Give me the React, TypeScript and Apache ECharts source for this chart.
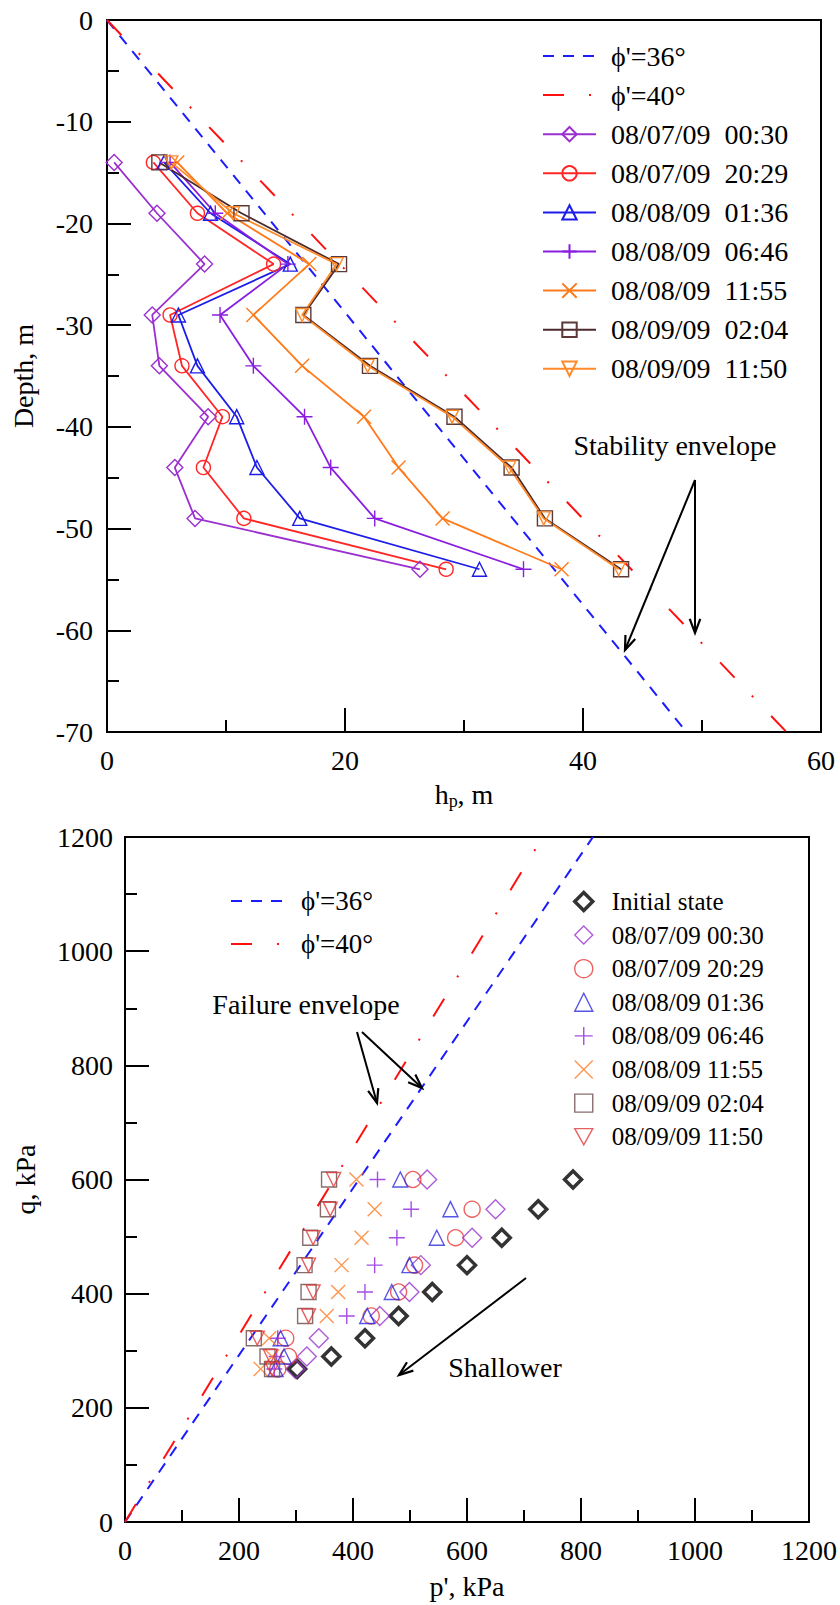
import React, { useEffect, useRef } from 'react';
import * as echarts from 'echarts';

const FONT = 'Liberation Serif';

// ---------- Top chart data: depth vs h_p ----------
const depths = [-14, -19, -24, -29, -34, -39, -44, -49, -54];
const hp0030 = [0.6, 4.2, 8.2, 3.8, 4.4, 8.5, 5.7, 7.4, 26.3];
const hp2029 = [3.9, 7.6, 14.0, 5.3, 6.3, 9.7, 8.1, 11.5, 28.5];
const hp0136 = [4.8, 8.7, 15.4, 6.0, 7.6, 10.9, 12.6, 16.2, 31.3];
const hp0646 = [5.3, 9.1, 15.2, 9.5, 12.3, 16.6, 18.8, 22.5, 35.0];
const hp1155 = [5.9, 10.1, 17.0, 12.3, 16.4, 21.6, 24.5, 28.2, 38.2];
const hp0204 = [4.4, 11.3, 19.5, 16.5, 22.1, 29.2, 34.0, 36.8, 43.2];
const hp1150 = [5.4, 10.6, 19.3, 16.4, 21.9, 29.0, 33.8, 36.7, 43.0];
const stab36 = [[0, 0], [48.7, -70]];
const stab40 = [[0, 0], [57.1, -70]];

// ---------- Bottom chart data: q vs p' ----------
const qLevels = [268, 290, 322, 361, 403, 450, 498, 548, 600];
const pInit = [302, 362, 421, 480, 539, 600, 661, 725, 786];
const p0030 = [299, 319, 340, 447, 499, 519, 609, 650, 530];
const p2029 = [268, 287, 282, 432, 480, 508, 580, 609, 505];
const p0136 = [264, 279, 273, 425, 468, 499, 547, 571, 483];
const p0646 = [262, 266, 268, 389, 421, 438, 477, 502, 443];
const p1155 = [238, 258, 253, 354, 374, 380, 415, 438, 406];
const p0204 = [258, 250, 226, 316, 322, 315, 325, 356, 358];
const p1150 = [258, 255, 232, 322, 330, 322, 330, 360, 366];
const fail36 = [[0, 0], [821, 1200]];
const fail40 = [[0, 0], [733, 1200]];

const topNames = ['08/07/09  00:30', '08/07/09  20:29', '08/08/09  01:36', '08/08/09  06:46', '08/08/09  11:55', '08/09/09  02:04', '08/09/09  11:50'];
const botNames = ['Initial state', '08/07/09 00:30', '08/07/09 20:29', '08/08/09 01:36', '08/08/09 06:46', '08/08/09 11:55', '08/09/09 02:04', '08/09/09 11:50'];
const env36 = "ϕ'=36°";
const env40 = "ϕ'=40°";

const SYM_PLUS = 'path://M0,5L10,5M5,0L5,10';
const SYM_X = 'path://M0,0L10,10M10,0L0,10';
const SYM_DOWN = 'path://M0,0L10,0L5,9Z';

const RED_DASH = [21, 25, 2, 26];
const BLUE_DASH = [11, 9];

function arrow(x1: number, y1: number, x2: number, y2: number) {
  const head = 15;
  const ang = 0.36;
  const a = Math.atan2(y2 - y1, x2 - x1);
  const p1 = [x2 - head * Math.cos(a - ang), y2 - head * Math.sin(a - ang)];
  const p2 = [x2 - head * Math.cos(a + ang), y2 - head * Math.sin(a + ang)];
  return [
    { type: 'line', shape: { x1, y1, x2, y2 }, style: { stroke: '#000', lineWidth: 2 }, z: 100 },
    { type: 'polyline', shape: { points: [p1, [x2, y2], p2] }, style: { stroke: '#000', lineWidth: 2.2, fill: 'none' }, z: 100 },
  ];
}

function axisCommon(min: number, max: number, interval: number) {
  return {
    type: 'value',
    min, max, interval,
    axisLine: { show: true, onZero: false, lineStyle: { color: '#000', width: 2 } },
    axisTick: { show: true, inside: true, length: 24, lineStyle: { color: '#000', width: 2 } },
    minorTick: { show: true, splitNumber: 2, length: 12, lineStyle: { color: '#000', width: 2 } },
    splitLine: { show: false },
    minorSplitLine: { show: false },
    axisLabel: { fontSize: 28, fontFamily: FONT, color: '#000', margin: 14, formatter: (v: number) => String(v) },
    nameLocation: 'middle',
    nameTextStyle: { fontSize: 28, fontFamily: FONT, color: '#000' },
  };
}

function topLine(name: string, hp: number[], symbol: string, size: number, color: string, lineColor?: string) {
  return {
    name, type: 'line',
    data: depths.map((d, i) => [hp[i], d]),
    symbol, symbolSize: size,
    lineStyle: { color: lineColor || color, width: 1.8 },
    itemStyle: { color: 'transparent', borderColor: color, borderWidth: 1.4 },
    z: 3,
  };
}

const hiddenIcon = { color: 'transparent', borderColor: 'transparent', borderWidth: 0, opacity: 0 };

function buildTop() {
  const cols = ['#9b30d0', '#ff2626', '#1c1ce8', '#8a1ee0', '#ff7a1a', '#5c3838', '#ff8a2a'];
  return {
    animation: false,
    backgroundColor: '#fff',
    textStyle: { fontFamily: FONT },
    grid: { left: 107, top: 20, width: 714, height: 713, show: true, borderColor: '#000', borderWidth: 2, backgroundColor: 'transparent' },
    xAxis: {
      ...axisCommon(0, 60, 20),
      name: '{a|h}{b|p}{a|, m}',
      nameGap: 46,
      nameTextStyle: {
        rich: {
          a: { fontSize: 28, fontFamily: FONT, color: '#000' },
          b: { fontSize: 18, fontFamily: FONT, color: '#000', verticalAlign: 'bottom', padding: [14, 0, 0, 0] },
        },
      },
    },
    yAxis: { ...axisCommon(-70, 0, 10), name: 'Depth, m', nameGap: 70 },
    legend: {
      orient: 'vertical', left: 537, top: 37, itemWidth: 53, itemHeight: 18, itemGap: 11.1,
      selectedMode: false,
      textStyle: { fontSize: 28, fontFamily: FONT, color: '#000', lineHeight: 28, padding: [0, 0, 0, 10] },
      data: [
        { name: env36, itemStyle: hiddenIcon },
        { name: env40, itemStyle: hiddenIcon },
        ...topNames,
      ],
    },
    series: [
      { name: env36, type: 'line', data: stab36, symbol: 'none', lineStyle: { color: '#1c1cff', width: 2, type: BLUE_DASH }, z: 2 },
      { name: env40, type: 'line', data: stab40, symbol: 'none', lineStyle: { color: '#ff1010', width: 2, type: RED_DASH }, z: 2 },
      topLine(topNames[0], hp0030, 'diamond', 16, cols[0]),
      topLine(topNames[1], hp2029, 'circle', 14, cols[1]),
      topLine(topNames[2], hp0136, 'triangle', 14, cols[2]),
      topLine(topNames[3], hp0646, SYM_PLUS, 16, cols[3]),
      topLine(topNames[4], hp1155, SYM_X, 14, cols[4]),
      topLine(topNames[5], hp0204, 'rect', 15, '#5c3838', '#4a2a2a'),
      topLine(topNames[6], hp1150, SYM_DOWN, 13, cols[6]),
    ],
    graphic: [
      { type: 'text', x: 675, y: 445, style: { text: 'Stability envelope', fontSize: 28, fontFamily: FONT, fill: '#000', align: 'center', verticalAlign: 'middle' }, z: 100 },
      ...arrow(695, 480, 625, 650),
      ...arrow(695, 480, 695, 633),
    ],
  };
}

function botScatter(name: string, p: number[], symbol: string, size: number, color: string, bw = 1.4) {
  return {
    name, type: 'scatter',
    data: qLevels.map((q, i) => [p[i], q]),
    symbol, symbolSize: size,
    itemStyle: { color: 'transparent', borderColor: color, borderWidth: bw },
    z: 3,
  };
}

function buildBottom() {
  return {
    animation: false,
    backgroundColor: '#fff',
    textStyle: { fontFamily: FONT },
    grid: { left: 125, top: 22, width: 690, height: 685, show: true, borderColor: '#000', borderWidth: 2, backgroundColor: 'transparent' },
    xAxis: { ...axisCommon(0, 1200, 200), name: "p', kPa", nameGap: 50 },
    yAxis: {
      ...axisCommon(0, 1200, 200), name: 'q, kPa', nameGap: 86,
      axisLabel: { fontSize: 28, fontFamily: FONT, color: '#000', margin: 12, formatter: (v: number) => String(v) },
    },
    legend: [
      {
        orient: 'vertical', left: 225, top: 67, itemWidth: 58, itemHeight: 14, itemGap: 15,
        selectedMode: false,
        textStyle: { fontSize: 27, fontFamily: FONT, color: '#000', lineHeight: 28, padding: [0, 0, 0, 7] },
        data: [
          { name: env36, itemStyle: hiddenIcon },
          { name: env40, itemStyle: hiddenIcon },
        ],
      },
      {
        orient: 'vertical', left: 568, top: 69, itemWidth: 18, itemHeight: 18, itemGap: 8.6,
        selectedMode: false,
        textStyle: { fontSize: 25, fontFamily: FONT, color: '#000', lineHeight: 25, padding: [0, 0, 0, 14] },
        data: [
          { name: botNames[0], itemStyle: { borderWidth: 3.5 } },
          ...botNames.slice(1).map((n) => ({ name: n, itemStyle: { borderWidth: 1.4 } })),
        ],
      },
    ],
    series: [
      { name: env36, type: 'line', data: fail36, symbol: 'none', lineStyle: { color: '#1c1cff', width: 2, type: BLUE_DASH }, z: 2 },
      { name: env40, type: 'line', data: fail40, symbol: 'none', lineStyle: { color: '#ff1010', width: 2, type: RED_DASH }, z: 2 },
      botScatter(botNames[0], pInit, 'diamond', 17, '#000', 3.5),
      botScatter(botNames[1], p0030, 'diamond', 19, '#9933cc'),
      botScatter(botNames[2], p2029, 'circle', 16, '#e83a3a'),
      botScatter(botNames[3], p0136, 'triangle', 15, '#2a2ae0'),
      botScatter(botNames[4], p0646, SYM_PLUS, 16, '#9020e0'),
      botScatter(botNames[5], p1155, SYM_X, 14, '#ff7a22'),
      botScatter(botNames[6], p0204, 'rect', 15, '#6a4848'),
      botScatter(botNames[7], p1150, SYM_DOWN, 14, '#e03838'),
    ],
    graphic: [
      { type: 'text', x: 306, y: 189, style: { text: 'Failure envelope', fontSize: 28, fontFamily: FONT, fill: '#000', align: 'center', verticalAlign: 'middle' }, z: 100 },
      { type: 'text', x: 505, y: 552, style: { text: 'Shallower', fontSize: 28, fontFamily: FONT, fill: '#000', align: 'center', verticalAlign: 'middle' }, z: 100 },
      ...arrow(357, 217, 377, 288),
      ...arrow(362, 217, 422, 273),
      ...arrow(526, 463, 399, 560),
    ],
  };
}

export default function App() {
  const topRef = useRef<HTMLDivElement>(null);
  const botRef = useRef<HTMLDivElement>(null);
  useEffect(() => {
    document.body.style.margin = '0';
    const c1 = echarts.init(topRef.current as HTMLDivElement, null, { renderer: 'svg' });
    c1.setOption(buildTop() as any);
    const c2 = echarts.init(botRef.current as HTMLDivElement, null, { renderer: 'svg' });
    c2.setOption(buildBottom() as any);
    return () => {
      c1.dispose();
      c2.dispose();
    };
  }, []);
  return (
    <div style={{ width: 840, height: 1605, background: '#fff' }}>
      <div ref={topRef} style={{ width: 840, height: 815 }} />
      <div ref={botRef} style={{ width: 840, height: 790 }} />
    </div>
  );
}
